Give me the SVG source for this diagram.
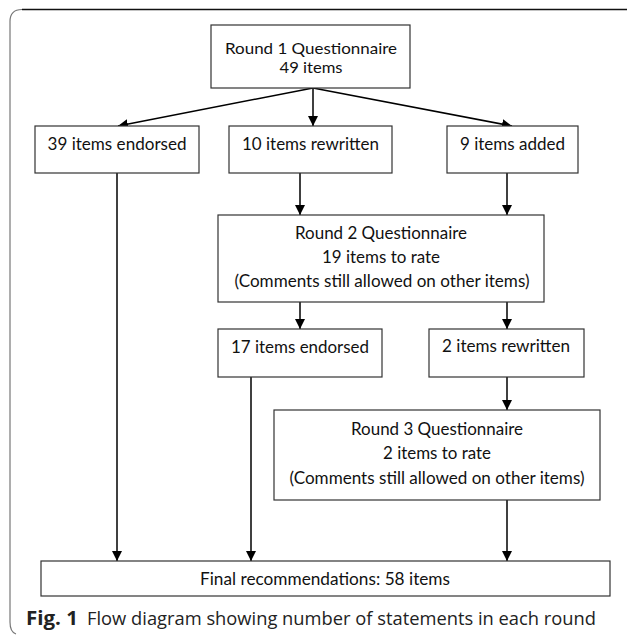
<svg xmlns="http://www.w3.org/2000/svg" width="627" height="635" viewBox="0 0 627 635">
<style>
.box{fill:#fff;stroke:#333;stroke-width:1.2}
.t{font-family:Lato,"Open Sans","Liberation Sans",sans-serif;font-size:17px;fill:#111;text-anchor:middle}
.t1{font-size:16px}
.c{fill:none;stroke:#000;stroke-width:1.5}
.cap{font-family:"Open Sans","Noto Sans",sans-serif;font-size:19px;fill:#222}
</style>
<defs>
<marker id="ah" markerUnits="userSpaceOnUse" markerWidth="12" markerHeight="10" refX="10" refY="5" orient="auto">
<path d="M0,0 L10,5 L0,10 Z" fill="#000"/>
</marker>
</defs>
<rect width="627" height="635" fill="#fff"/>
<g id="frame">
<path d="M627,9.5 H22 Q10,9.5 10,21.5 V622 Q10,632 16,634" fill="none" stroke="#777" stroke-width="1.2"/>
<path d="M22,9.5 H627" stroke="#111" stroke-width="1.5"/>
</g>
<g id="connectors">
<line class="c" x1="313" y1="88" x2="118" y2="126" marker-end="url(#ah)"/>
<line class="c" x1="313" y1="88" x2="313" y2="126" marker-end="url(#ah)"/>
<line class="c" x1="313" y1="88" x2="512" y2="126" marker-end="url(#ah)"/>
<line class="c" x1="117" y1="173" x2="117" y2="561" marker-end="url(#ah)"/>
<line class="c" x1="300" y1="173" x2="300" y2="215" marker-end="url(#ah)"/>
<line class="c" x1="507" y1="173" x2="507" y2="215" marker-end="url(#ah)"/>
<line class="c" x1="300" y1="302" x2="300" y2="329" marker-end="url(#ah)"/>
<line class="c" x1="507" y1="302" x2="507" y2="329" marker-end="url(#ah)"/>
<line class="c" x1="251" y1="377" x2="251" y2="561" marker-end="url(#ah)"/>
<line class="c" x1="507" y1="377" x2="507" y2="410" marker-end="url(#ah)"/>
<line class="c" x1="507" y1="500" x2="507" y2="561" marker-end="url(#ah)"/>
</g>
<g id="round1">
<rect class="box" x="211" y="25" width="199" height="63"/>
<text class="t t1" x="311" y="54" textLength="172" lengthAdjust="spacingAndGlyphs">Round 1 Questionnaire</text>
<text class="t t1" x="311" y="73" textLength="63" lengthAdjust="spacingAndGlyphs">49 items</text>
</g>
<g id="endorsed39">
<rect class="box" x="35" y="126" width="164" height="47"/>
<text class="t" x="117" y="150" textLength="139" lengthAdjust="spacingAndGlyphs">39 items endorsed</text>
</g>
<g id="rewritten10">
<rect class="box" x="229" y="126" width="163" height="47"/>
<text class="t" x="310.5" y="150" textLength="137" lengthAdjust="spacingAndGlyphs">10 items rewritten</text>
</g>
<g id="added9">
<rect class="box" x="447" y="126" width="131" height="47"/>
<text class="t" x="512.5" y="150" textLength="105" lengthAdjust="spacingAndGlyphs">9 items added</text>
</g>
<g id="round2">
<rect class="box" x="218" y="215" width="326" height="87"/>
<text class="t" x="381" y="239" textLength="172" lengthAdjust="spacingAndGlyphs">Round 2 Questionnaire</text>
<text class="t" x="381" y="263" textLength="118" lengthAdjust="spacingAndGlyphs">19 items to rate</text>
<text class="t" x="382" y="287" textLength="295" lengthAdjust="spacingAndGlyphs">(Comments still allowed on other items)</text>
</g>
<g id="endorsed17">
<rect class="box" x="218" y="329" width="164" height="48"/>
<text class="t" x="300" y="353" textLength="138" lengthAdjust="spacingAndGlyphs">17 items endorsed</text>
</g>
<g id="rewritten2">
<rect class="box" x="429" y="329" width="155" height="48"/>
<text class="t" x="506" y="352" textLength="128" lengthAdjust="spacingAndGlyphs">2 items rewritten</text>
</g>
<g id="round3">
<rect class="box" x="274" y="410" width="326" height="90"/>
<text class="t" x="437" y="435" textLength="172" lengthAdjust="spacingAndGlyphs">Round 3 Questionnaire</text>
<text class="t" x="437" y="459" textLength="108" lengthAdjust="spacingAndGlyphs">2 items to rate</text>
<text class="t" x="437" y="484" textLength="295" lengthAdjust="spacingAndGlyphs">(Comments still allowed on other items)</text>
</g>
<g id="final">
<rect class="box" x="41" y="561" width="569" height="35"/>
<text class="t" x="325" y="585" textLength="250" lengthAdjust="spacingAndGlyphs">Final recommendations: 58 items</text>
</g>
<g id="caption">
<text class="cap" x="26" y="625"><tspan font-weight="bold" textLength="52" lengthAdjust="spacingAndGlyphs">Fig. 1</tspan></text>
<text class="cap" x="87" y="625" textLength="509" lengthAdjust="spacingAndGlyphs">Flow diagram showing number of statements in each round</text>
</g>
</svg>
